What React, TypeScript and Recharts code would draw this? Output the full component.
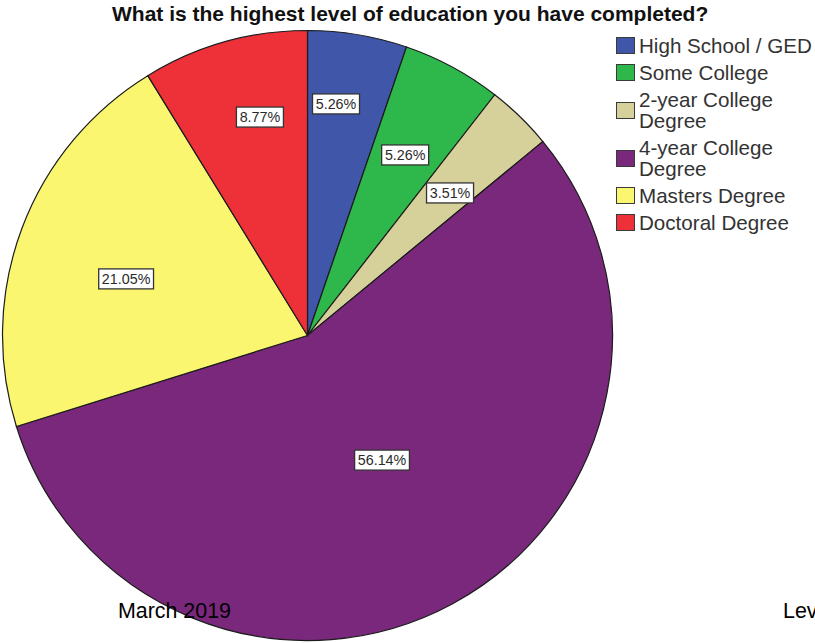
import React from 'react';
import { PieChart, Pie, Cell, Legend } from 'recharts';

const categories = [
  'High School / GED',
  'Some College',
  '2-year College Degree',
  '4-year College Degree',
  'Masters Degree',
  'Doctoral Degree',
];
const percentages = [5.26, 5.26, 3.51, 56.14, 21.05, 8.77];
const colors = ['#3F56A9', '#2EB84B', '#D6D09B', '#7A287C', '#FBF66F', '#EE3139'];

const titleText = 'What is the highest level of education you have completed?';
const footerLeft = 'March 2019';
const footerRight = 'Lev';

// label placement (layout only): radius fraction and angle nudge per slice
const labelRadiusFrac = [0.765, 0.673, 0.661, 0.476, 0.623, 0.733];
const labelAngleNudge = [2.45, 0, -0.8, 2.46, 3.2, -3.5];

const data = categories.map((name, i) => ({ name, value: percentages[i] }));

const FONT = '"Liberation Sans", Arial, sans-serif';
const RAD = Math.PI / 180;

const renderLabel = (props: any) => {
  const { cx, cy, midAngle, outerRadius, index, value } = props;
  const r = outerRadius * labelRadiusFrac[index];
  const a = (midAngle + labelAngleNudge[index]) * RAD;
  const x = cx + r * Math.cos(a);
  const y = cy - r * Math.sin(a);
  const txt = `${Number(value).toFixed(2)}%`;
  const w = txt.length * 7.8 + 8;
  const h = 20;
  return (
    <g key={`lbl-${index}`}>
      <rect x={x - w / 2} y={y - h / 2} width={w} height={h} fill="#ffffff" stroke="#333" strokeWidth={1.3} />
      <text x={x} y={y} textAnchor="middle" dominantBaseline="central" fontSize={14.3} fontFamily={FONT} fill="#2a2a2a">
        {txt}
      </text>
    </g>
  );
};

const LegendContent = () => (
  <div style={{ fontFamily: FONT, fontSize: 20.6, lineHeight: '21.5px', color: '#333' }}>
    {categories.map((c, i) => (
      <div key={c} style={{ display: 'flex', alignItems: 'center', marginBottom: 5.3 }}>
        <div
          style={{
            width: 17,
            height: 15,
            background: colors[i],
            border: '1.5px solid #3a3a3a',
            flexShrink: 0,
            marginRight: 4,
          }}
        />
        <div style={{ width: 182 }}>{c}</div>
      </div>
    ))}
  </div>
);

export default function App() {
  return (
    <div style={{ position: 'absolute', left: 0, top: 0, width: 815, height: 643, background: '#fff', overflow: 'hidden' }}>
      <PieChart width={815} height={643} margin={{ top: 0, right: 0, bottom: 0, left: 0 }}>
        <Pie
          data={data}
          dataKey="value"
          nameKey="name"
          cx={307.5}
          cy={335.5}
          outerRadius={305}
          startAngle={90}
          endAngle={-270}
          stroke="#1c1c1c"
          strokeWidth={1.2}
          label={renderLabel}
          labelLine={false}
          isAnimationActive={false}
        >
          {data.map((d, i) => (
            <Cell key={d.name} fill={colors[i]} />
          ))}
        </Pie>
        <Legend
          content={<LegendContent />}
          wrapperStyle={{ position: 'absolute', left: 616, top: 35, width: 200 }}
        />
      </PieChart>
      <div
        style={{
          position: 'absolute',
          left: 112,
          top: 2,
          fontFamily: FONT,
          fontWeight: 'bold',
          fontSize: 21,
          lineHeight: '24px',
          color: '#111',
          whiteSpace: 'nowrap',
          pointerEvents: 'none',
        }}
      >
        {titleText}
      </div>
      <div style={{ position: 'absolute', left: 118, top: 598, fontFamily: FONT, fontSize: 21.4, lineHeight: '26px', color: '#000' }}>
        {footerLeft}
      </div>
      <div style={{ position: 'absolute', left: 783, top: 598, fontFamily: FONT, fontSize: 21.4, lineHeight: '26px', color: '#000', whiteSpace: 'nowrap' }}>
        {footerRight}
      </div>
    </div>
  );
}
